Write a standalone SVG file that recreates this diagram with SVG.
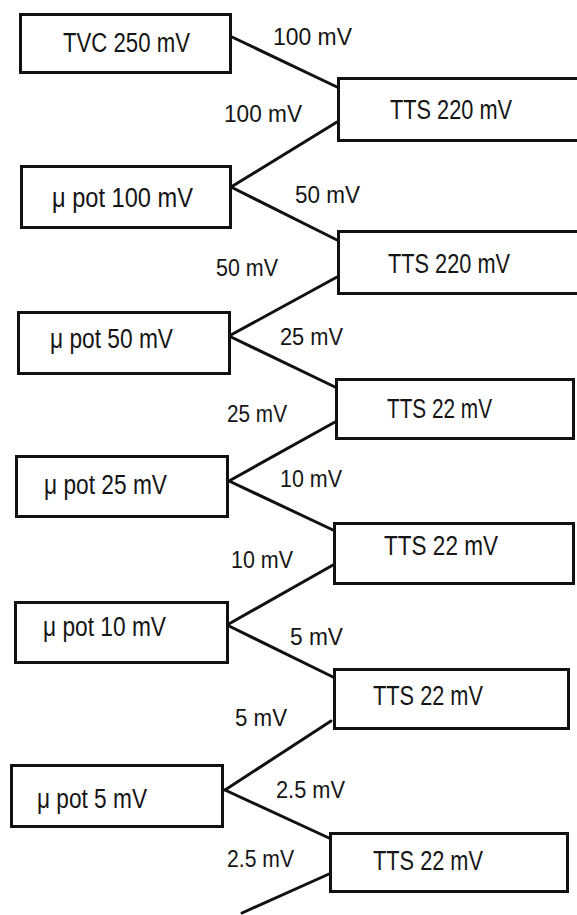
<svg xmlns="http://www.w3.org/2000/svg" width="577" height="915" viewBox="0 0 577 915">
<style>
.box{fill:#fff;stroke:#111;stroke-width:3}
.t{font-family:"Liberation Sans",Arial,sans-serif;font-size:27px;fill:#151515}
.l{font-family:"Liberation Sans",Arial,sans-serif;font-size:24px;fill:#151515}
.c{stroke:#111;stroke-width:3;fill:none;stroke-linecap:round}
</style>
<rect width="577" height="915" fill="#fff"/>
<g id="connectors">
<line class="c" x1="232" y1="37" x2="337" y2="87"/>
<line class="c" x1="337" y1="122" x2="231" y2="187"/>
<line class="c" x1="231" y1="187" x2="337" y2="240"/>
<line class="c" x1="337" y1="277" x2="229" y2="336"/>
<line class="c" x1="229" y1="336" x2="335" y2="387"/>
<line class="c" x1="335" y1="422" x2="229" y2="481"/>
<line class="c" x1="229" y1="481" x2="333" y2="530"/>
<line class="c" x1="333" y1="565" x2="227" y2="625"/>
<line class="c" x1="227" y1="625" x2="333" y2="677"/>
<line class="c" x1="331" y1="721" x2="225" y2="790"/>
<line class="c" x1="225" y1="790" x2="329" y2="838"/>
<line class="c" x1="329" y1="874" x2="242" y2="913"/>
</g>
<g id="labels">
<text class="l" x="273" y="45" textLength="79" lengthAdjust="spacingAndGlyphs">100 mV</text>
<text class="l" x="224" y="122" textLength="78" lengthAdjust="spacingAndGlyphs">100 mV</text>
<text class="l" x="295" y="203" textLength="65" lengthAdjust="spacingAndGlyphs">50 mV</text>
<text class="l" x="216" y="276" textLength="62" lengthAdjust="spacingAndGlyphs">50 mV</text>
<text class="l" x="280" y="345" textLength="63" lengthAdjust="spacingAndGlyphs">25 mV</text>
<text class="l" x="227" y="422" textLength="60" lengthAdjust="spacingAndGlyphs">25 mV</text>
<text class="l" x="280" y="487" textLength="62" lengthAdjust="spacingAndGlyphs">10 mV</text>
<text class="l" x="231" y="568" textLength="62" lengthAdjust="spacingAndGlyphs">10 mV</text>
<text class="l" x="290" y="645" textLength="53" lengthAdjust="spacingAndGlyphs">5 mV</text>
<text class="l" x="235" y="726" textLength="52" lengthAdjust="spacingAndGlyphs">5 mV</text>
<text class="l" x="276" y="798" textLength="69" lengthAdjust="spacingAndGlyphs">2.5 mV</text>
<text class="l" x="227" y="867" textLength="67" lengthAdjust="spacingAndGlyphs">2.5 mV</text>
</g>
<g id="tvc250"><rect class="box" x="20.5" y="14.5" width="210" height="58"/><text class="t" x="63" y="52" textLength="127" lengthAdjust="spacingAndGlyphs">TVC 250 mV</text></g>
<g id="tts1"><rect class="box" x="338.5" y="78.5" width="250" height="62"/><text class="t" x="390" y="119" textLength="122" lengthAdjust="spacingAndGlyphs">TTS 220 mV</text></g>
<g id="upot100"><rect class="box" x="21.5" y="166.5" width="209" height="61"/><text class="t" x="52" y="207" textLength="141" lengthAdjust="spacingAndGlyphs">μ pot  100 mV</text></g>
<g id="tts2"><rect class="box" x="338.5" y="231.5" width="250" height="62"/><text class="t" x="388" y="273" textLength="122" lengthAdjust="spacingAndGlyphs">TTS 220 mV</text></g>
<g id="upot50"><rect class="box" x="18.5" y="312.5" width="211" height="61"/><text class="t" x="50" y="348" textLength="123" lengthAdjust="spacingAndGlyphs">μ pot  50 mV</text></g>
<g id="tts3"><rect class="box" x="336.5" y="379.5" width="237" height="59"/><text class="t" x="387" y="418" textLength="105" lengthAdjust="spacingAndGlyphs">TTS 22 mV</text></g>
<g id="upot25"><rect class="box" x="16.5" y="456.5" width="211" height="60"/><text class="t" x="44" y="494" textLength="123" lengthAdjust="spacingAndGlyphs">μ pot 25 mV</text></g>
<g id="tts4"><rect class="box" x="334.5" y="523.5" width="239" height="60"/><text class="t" x="384" y="555" textLength="114" lengthAdjust="spacingAndGlyphs">TTS 22  mV</text></g>
<g id="upot10"><rect class="box" x="15.5" y="602.5" width="212" height="60"/><text class="t" x="43" y="636" textLength="123" lengthAdjust="spacingAndGlyphs">μ pot 10 mV</text></g>
<g id="tts5"><rect class="box" x="334.5" y="669.5" width="234" height="59"/><text class="t" x="373" y="705" textLength="110" lengthAdjust="spacingAndGlyphs">TTS 22 mV</text></g>
<g id="upot5"><rect class="box" x="11.5" y="765.5" width="211" height="61"/><text class="t" x="37" y="808" textLength="110" lengthAdjust="spacingAndGlyphs">μ pot  5 mV</text></g>
<g id="tts6"><rect class="box" x="330.5" y="833.5" width="237" height="58"/><text class="t" x="373" y="870" textLength="110" lengthAdjust="spacingAndGlyphs">TTS 22 mV</text></g>
</svg>
